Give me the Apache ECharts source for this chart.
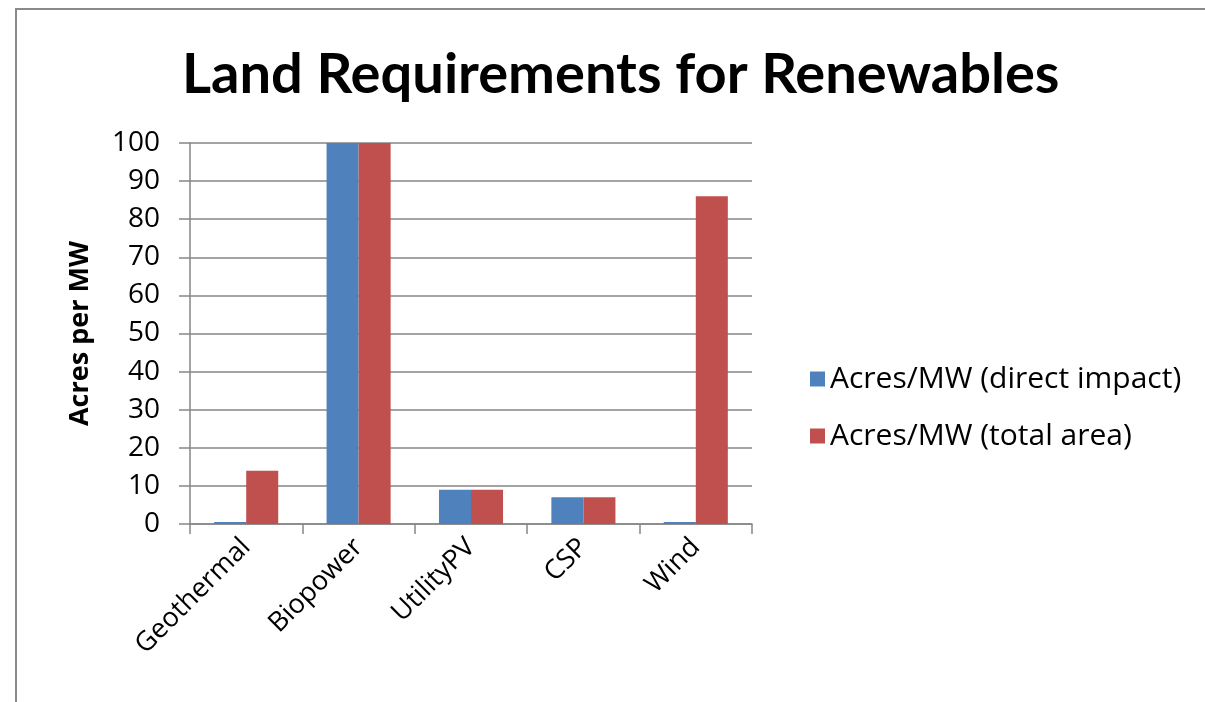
<!DOCTYPE html>
<html>
<head>
<meta charset="utf-8">
<script src="https://cdn.jsdelivr.net/npm/echarts@6/dist/echarts.min.js"></script>
<style>
html,body{margin:0;padding:0;background:#fff;}
#chart{width:1205px;height:702px;}
</style>
</head>
<body>
<div id="chart"></div>
<script>
var categories = ['Geothermal', 'Biopower', 'UtilityPV', 'CSP', 'Wind'];
var directImpact = [0.5, 100, 9, 7, 0.5];
var totalArea = [14, 100, 9, 7, 86];
var seriesNames = ['Acres/MW (direct impact)', 'Acres/MW (total area)'];
var titleText = 'Land Requirements for Renewables';
var yAxisName = 'Acres per MW';

var chart = echarts.init(document.getElementById('chart'));
var font = 'Open Sans';
chart.setOption({
  animation: false,
  textStyle: {fontFamily: font},
  title: {
    text: titleText,
    left: 177,
    top: 42,
    textStyle: {fontFamily: 'Lato', fontWeight: 'bold', fontSize: 56, color: '#000'}
  },
  graphic: [{
    type: 'polyline',
    shape: {points: [[16, 702], [16, 9], [1205, 9]]},
    style: {stroke: '#8a8a8a', lineWidth: 2, fill: null}
  }],
  legend: {
    orient: 'vertical',
    left: 805,
    top: 359,
    itemWidth: 15,
    itemHeight: 15,
    itemGap: 27,
    icon: 'rect',
    textStyle: {fontFamily: font, fontSize: 30, color: '#000'},
    data: seriesNames
  },
  grid: {left: 190, right: 453, top: 143, bottom: 178, containLabel: false},
  xAxis: {
    type: 'category',
    data: categories,
    boundaryGap: true,
    axisLine: {lineStyle: {color: '#868686', width: 1.5}},
    axisTick: {show: true, length: 10, lineStyle: {color: '#868686', width: 1.5}},
    axisLabel: {
      rotate: 45,
      interval: 0,
      fontFamily: font,
      fontSize: 27,
      color: '#000',
      margin: 19
    }
  },
  yAxis: {
    type: 'value',
    min: 0,
    max: 100,
    interval: 10,
    name: yAxisName,
    nameLocation: 'middle',
    nameGap: 96,
    nameTextStyle: {fontFamily: font, fontWeight: 'bold', fontSize: 27, color: '#000'},
    axisLine: {show: true, lineStyle: {color: '#868686', width: 1.5}},
    axisTick: {show: true, length: 11, lineStyle: {color: '#868686', width: 1.5}},
    axisLabel: {fontFamily: font, fontSize: 28, color: '#000', margin: 30},
    splitLine: {show: true, lineStyle: {color: '#868686', width: 1.5}}
  },
  series: [{
    name: seriesNames[0],
    type: 'bar',
    data: directImpact,
    barGap: '0%',
    barCategoryGap: '43%',
    itemStyle: {color: '#4F81BD'}
  }, {
    name: seriesNames[1],
    type: 'bar',
    data: totalArea,
    barGap: '0%',
    barCategoryGap: '43%',
    itemStyle: {color: '#C0504D'}
  }]
});
</script>
</body>
</html>
